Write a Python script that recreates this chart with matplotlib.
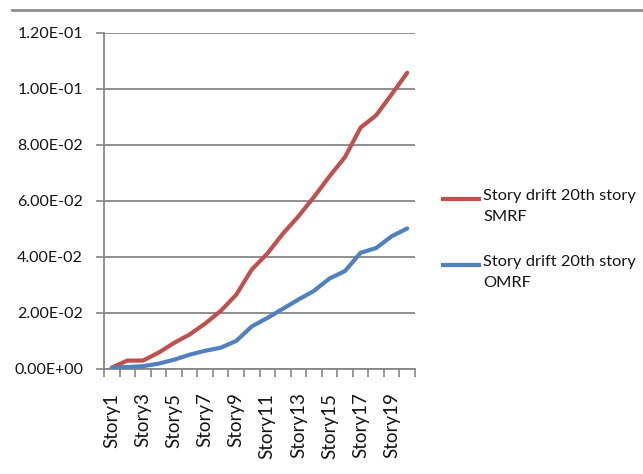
import matplotlib.pyplot as plt
from matplotlib.lines import Line2D
from matplotlib.ticker import FuncFormatter, MultipleLocator
import numpy as np

plt.rcParams['font.family'] = ['Lato', 'DejaVu Sans']

stories = ['Story%d' % i for i in range(1, 21)]
drift_smrf = [0.0005, 0.0030, 0.0030, 0.0058, 0.0093, 0.0123, 0.0162, 0.0207,
              0.0265, 0.0355, 0.0412, 0.0483, 0.0545, 0.0614, 0.0688, 0.0757,
              0.0862, 0.0906, 0.0981, 0.1058]
drift_omrf = [0.0004, 0.0007, 0.0010, 0.0019, 0.0033, 0.0051, 0.0065, 0.0076,
              0.0100, 0.0152, 0.0182, 0.0215, 0.0248, 0.0279, 0.0323, 0.0350,
              0.0415, 0.0432, 0.0474, 0.0502]
series_labels = ['Story drift 20th story\nSMRF', 'Story drift 20th story\nOMRF']
colors = ['#C0504D', '#4F81BD']
grid_c = '#868686'
text_c = '#141414'

W, H = 643, 474
fig = plt.figure(figsize=(W / 100, H / 100), dpi=100)
ax = fig.add_axes([104 / W, 1 - 369 / H, 311 / W, 336 / H])

x = np.arange(len(stories))
for vals, c in zip([drift_smrf, drift_omrf], colors):
    ax.plot(x, vals, color=c, linewidth=3, solid_capstyle='round',
            solid_joinstyle='round', zorder=3)

ax.set_xlim(-0.5, len(stories) - 0.5)
ax.set_ylim(0, 0.12)
ax.yaxis.set_major_locator(MultipleLocator(0.02))
ax.yaxis.set_major_formatter(FuncFormatter(lambda v, p: '%.2E' % v))
ax.grid(axis='y', color=grid_c, linewidth=1.3)
ax.set_axisbelow(True)

# category labels on every other story, tick marks between categories
ax.set_xticks(x[::2])
ax.set_xticklabels(stories[::2], rotation=90, va='top', ha='center')
ax.set_xticks(np.arange(-0.5, len(stories)), minor=True)
ax.tick_params(axis='x', which='major', length=0, pad=17, labelsize=13.5,
               labelcolor=text_c)
ax.tick_params(axis='x', which='minor', length=6, width=1.2, color=grid_c)
ax.tick_params(axis='y', length=6, width=1.2, color=grid_c, pad=9,
               labelsize=11.5, labelcolor=text_c)

for side in ['top', 'right']:
    ax.spines[side].set_visible(False)
for side in ['left', 'bottom']:
    ax.spines[side].set_color(grid_c)
    ax.spines[side].set_linewidth(1.3)

# legend drawn beside the plot
legend_y = [199, 265]
for lab, c, ly in zip(series_labels, colors, legend_y):
    fy = 1 - ly / H
    fig.add_artist(Line2D([443 / W, 479 / W], [fy, fy], color=c, linewidth=3))
    fig.text(483 / W, fy + 10 / H, lab, ha='left', va='top', fontsize=11.8,
             color=text_c, linespacing=1.65)

# chart frame edge at the top
fig.add_artist(Line2D([12 / W, 1], [1 - 10 / H, 1 - 10 / H], color='#8c8c8c',
                      linewidth=2))

fig.savefig('out.png', dpi=100)
